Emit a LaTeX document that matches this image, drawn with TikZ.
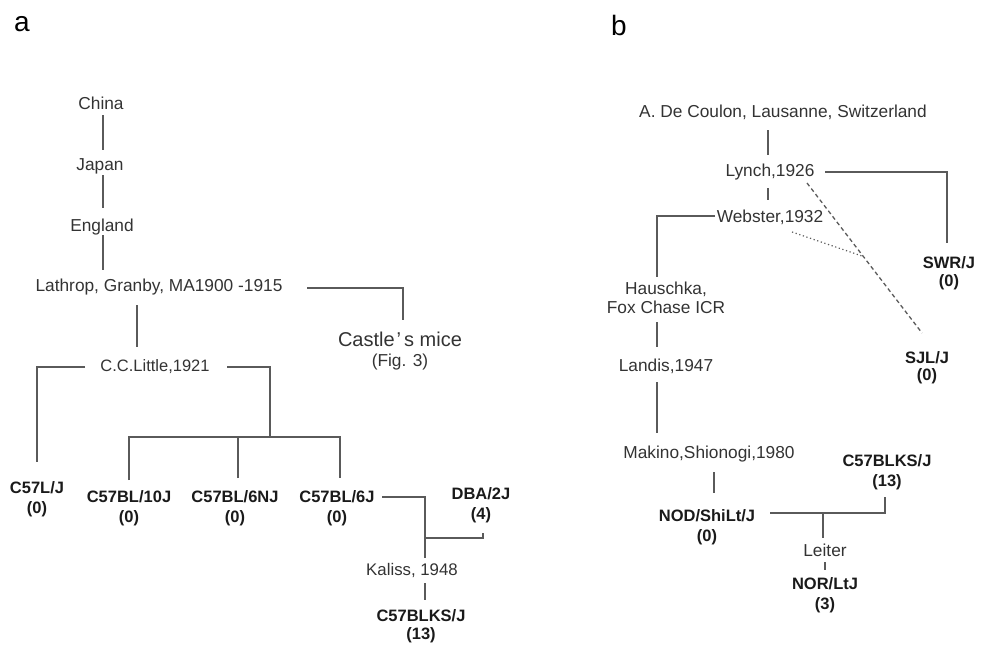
\documentclass[tikz,border=0pt]{standalone}
\usepackage{fontspec}
\setmainfont{Liberation Sans}
\definecolor{txt}{HTML}{333333}
\definecolor{strn}{HTML}{1A1A1A}
\definecolor{ln}{HTML}{5A5A5A}
\tikzset{
  lab/.style={font=\fontsize{17.3}{20}\selectfont, text=txt, inner sep=0pt, align=center},
  strain/.style={font=\fontsize{16.5}{20}\selectfont\bfseries, text=strn, inner sep=0pt, align=center, anchor=north},
  panel/.style={font=\fontsize{28}{30}\selectfont, text=black, inner sep=0pt},
  conn/.style={draw=ln, line width=1.3pt},
  dashconn/.style={draw=ln, line width=1.3pt, dash pattern=on 4pt off 3pt},
  dotconn/.style={draw=ln, line width=1.2pt, dash pattern=on 1.2pt off 2.6pt},
}
\begin{document}
\begin{tikzpicture}[x=1pt,y=-1pt]
\useasboundingbox (0,0) rectangle (981,650);
% ---------- panel a ----------
\node[panel] (pa) at (22,24) {a};
\node[lab] (china) at (101,103) {China};
\node[lab] (japan) at (100,166) {Japan};
\node[lab] (england) at (102,227) {England};
\node[lab] (lathrop) at (159,287) {Lathrop, Granby, MA1900 -1915};
\node[lab, font=\fontsize{20}{22}\selectfont] (castle) at (400,339) {Castle\hspace{2pt}’\hspace{3pt}s mice};
\node[lab] (fig) at (400,362) {(Fig. 3)};
\node[lab, font=\fontsize{16.5}{20}\selectfont] (little) at (155,367) {C.C.Little,1921};
\node[strain] (c57l) at (37,481) {C57L/J\\(0)};
\node[strain] (c57bl10) at (129,490) {C57BL/10J\\(0)};
\node[strain] (c57bl6n) at (235,490) {C57BL/6NJ\\(0)};
\node[strain] (c57bl6) at (337,490) {C57BL/6J\\(0)};
\node[strain] (dba) at (481,487) {DBA/2J\\(4)};
\node[lab, font=\fontsize{16.8}{20}\selectfont] (kaliss) at (412,570) {Kaliss, 1948};
\node[strain] (blksA) at (421,609) {C57BLKS/J\\[-2pt](13)};
\coordinate (bar) at (270,437);

\draw[conn] ([xshift=2pt,yshift=-12pt]china.center) -- ([xshift=3pt,yshift=16pt]japan.center);
\draw[conn] ([xshift=3pt,yshift=-9pt]japan.center) -- ([xshift=1pt,yshift=19pt]england.center);
\draw[conn] ([xshift=1pt,yshift=-8pt]england.center) -- ([xshift=-56pt,yshift=17pt]lathrop.center);
\draw[conn] ([xshift=148pt,yshift=-1pt]lathrop.center) -| ([xshift=3pt,yshift=19pt]castle.center);
\draw[conn] ([xshift=-22pt,yshift=-18pt]lathrop.center) -- ([xshift=-18pt,yshift=20pt]little.center);
\draw[conn] ([xshift=-70pt]little.center) -| ([yshift=19pt]c57l.north);
\draw[conn] ([xshift=72pt]little.center) -| (bar);
\draw[conn] ([yshift=10pt]c57bl10.north) |- (bar) -| ([xshift=3pt,yshift=12pt]c57bl6.north);
\draw[conn] ([xshift=3pt,yshift=12pt]c57bl6n.north) -- ++(0,-41);
\draw[conn] ([xshift=45pt,yshift=-7pt]c57bl6.north) -| ([xshift=13pt,yshift=12pt]kaliss.center);
\draw[conn] ([xshift=13pt,yshift=32pt]kaliss.center) -| ([xshift=2pt,yshift=-46pt]dba.north);
\draw[conn] ([xshift=13pt,yshift=-13pt]kaliss.center) -- ([xshift=4pt,yshift=9pt]blksA.north);

% ---------- panel b ----------
\node[panel] (pb) at (619,25) {b};
\node[lab] (coulon) at (783,112) {A. De Coulon, Lausanne, Switzerland};
\node[lab] (lynch) at (770,172) {Lynch,1926};
\node[lab] (webster) at (770,217) {Webster,1932};
\node[lab, anchor=north] (haus) at (666,282) {Hauschka,\\[-1pt]Fox Chase ICR};
\node[lab] (landis) at (666,366) {Landis,1947};
\node[lab] (makino) at (709,454) {Makino,Shionogi,1980};
\node[strain] (nod) at (707,509) {NOD/ShiLt/J\\(0)};
\node[strain] (blksB) at (887,454) {C57BLKS/J\\(13)};
\node[lab] (leiter) at (825,550) {Leiter};
\node[strain] (nor) at (825,577) {NOR/LtJ\\(3)};
\node[strain] (swr) at (949,256) {SWR/J\\[-2pt](0)};
\node[strain] (sjl) at (927,351) {SJL/J\\[-3pt](0)};

\draw[conn] ([xshift=-15pt,yshift=-18pt]coulon.center) -- ([xshift=-2pt,yshift=17pt]lynch.center);
\draw[conn] ([xshift=-2pt,yshift=-16pt]lynch.center) -- ([xshift=-2pt,yshift=17pt]webster.center);
\draw[conn] ([xshift=55pt]lynch.center) -| ([xshift=-2pt,yshift=13pt]swr.north);
\draw[conn] ([xshift=-55pt,yshift=1pt]webster.center) -| ([xshift=-9pt,yshift=5pt]haus.north);
\draw[conn] ([xshift=-9pt,yshift=-40pt]haus.north) -- ([xshift=-9pt,yshift=19pt]landis.center);
\draw[conn] ([xshift=-9pt,yshift=-16pt]landis.center) -- ([xshift=-52pt,yshift=21pt]makino.center);
\draw[conn] ([xshift=5pt,yshift=-18pt]makino.center) -- ([xshift=7pt,yshift=16pt]nod.north);
\draw[conn] ([xshift=63pt,yshift=-4pt]nod.north) -| ([xshift=-2pt,yshift=-43pt]blksB.north);
\draw[conn] ([xshift=-2pt,yshift=37pt]leiter.center) -- ([xshift=-2pt,yshift=12pt]leiter.center);
\draw[conn] ([yshift=-12pt]leiter.center) -- ([yshift=7pt]nor.north);
\draw[dashconn] ([xshift=37pt,yshift=-11pt]lynch.center) -- coordinate[pos=0.49] (dj) ([xshift=-5pt,yshift=18pt]sjl.north);
\draw[dotconn] ([xshift=22pt,yshift=-15pt]webster.center) -- (dj);
\end{tikzpicture}
\end{document}
